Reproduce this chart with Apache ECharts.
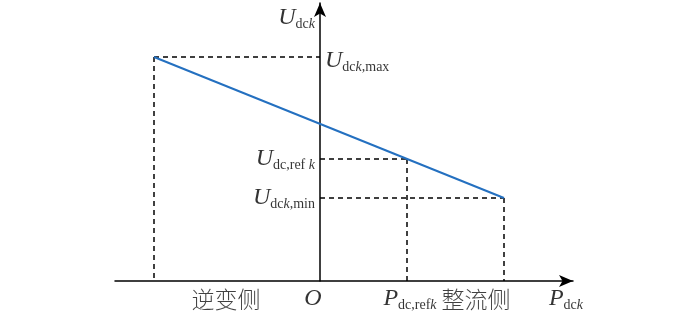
<!DOCTYPE html>
<html><head><meta charset="utf-8">
<script src="https://cdn.jsdelivr.net/npm/echarts@6/dist/echarts.min.js"></script>
<style>html,body{margin:0;padding:0;background:#fff}#c{width:700px;height:319px}</style>
</head><body><div id="c"></div>
<script>
// Schematic axes (arbitrary units; origin O at 0,0)
const xRange = [-205, 253];
const yRange = [0, 278];
// Droop characteristic: inverter-side end (Udck,max) to rectifier-side end (Udck,min)
const maxPoint = [-166, 224];
const minPoint = [184, 83];
const refPoint = [87, 122];
const droopLine = [maxPoint, minPoint];
// Text labels: [x, y, rich text, position, vertical shift]
const labelTexts = [
  [0, 263, '{U|U}{s|dc}{k|k}', 'left', 0],
  [0, 224, '{U|U}{s|dc}{k|k}{s|,max}', 'right', 4],
  [0, 122, '{U|U}{s|dc,ref}{k| k}', 'left', 0],
  [0, 83, '{U|U}{s|dc}{k|k}{s|,min}', 'left', 0],
  [-94, 0, '{c|逆变侧}', 'bottom', 0],
  [-7, 0, '{U|O}', 'bottom', 0],
  [90, 0, '{U|P}{s|dc,ref}{k|k}', 'bottom', 0],
  [156, 0, '{c|整流侧}', 'bottom', 0],
  [246, 0, '{U|P}{s|dc}{k|k}', 'bottom', 0]
];

const serif = 'Liberation Serif, Times New Roman, serif';
const rich = {
  U: {fontFamily: serif, fontStyle: 'italic', fontSize: 24, lineHeight: 26, color: '#000'},
  s: {fontFamily: serif, fontSize: 14, lineHeight: 11, verticalAlign: 'bottom', color: '#000'},
  k: {fontFamily: serif, fontStyle: 'italic', fontSize: 14, lineHeight: 11, verticalAlign: 'bottom', color: '#000'},
  c: {fontFamily: 'Noto Sans CJK SC', fontWeight: 300, fontSize: 23, lineHeight: 26, color: '#111'}
};

function dashed(a, b) {
  return {
    type: 'line', data: [a, b], symbol: 'none', silent: true,
    lineStyle: {color: '#000', width: 1.5, type: [5, 4]}, z: 2
  };
}

const series = [
  dashed([maxPoint[0], maxPoint[1]], [0, maxPoint[1]]),
  dashed([maxPoint[0], maxPoint[1]], [maxPoint[0], 0]),
  dashed([0, refPoint[1]], refPoint),
  dashed(refPoint, [refPoint[0], 0]),
  dashed([0, minPoint[1]], minPoint),
  dashed(minPoint, [minPoint[0], 0]),
  {
    type: 'line', data: droopLine, symbol: 'none', silent: true,
    lineStyle: {color: '#2470c0', width: 2}, z: 3
  },
  {
    type: 'scatter', symbolSize: 0, silent: true, clip: false,
    data: labelTexts.map(t => ({
      value: [t[0], t[1]],
      label: {show: true, position: t[3], distance: 5, offset: [0, t[4]], formatter: t[2], rich: rich}
    }))
  }
];

const chart = echarts.init(document.getElementById('c'));
chart.setOption({
  animation: false,
  backgroundColor: '#fff',
  grid: {left: 115, right: 127, top: 3, bottom: 38, outerBoundsMode: 'none'},
  xAxis: {
    type: 'value', min: xRange[0], max: xRange[1],
    axisLine: {show: true, onZero: true, symbol: ['none', 'arrow'], symbolSize: [9, 14], lineStyle: {color: '#000', width: 1.5}},
    axisTick: {show: false}, axisLabel: {show: false}, splitLine: {show: false}
  },
  yAxis: {
    type: 'value', min: yRange[0], max: yRange[1],
    axisLine: {show: true, onZero: true, symbol: ['none', 'arrow'], symbolSize: [9, 14], lineStyle: {color: '#000', width: 1.5}},
    axisTick: {show: false}, axisLabel: {show: false}, splitLine: {show: false}
  },
  series: series
});
</script>
</body></html>
